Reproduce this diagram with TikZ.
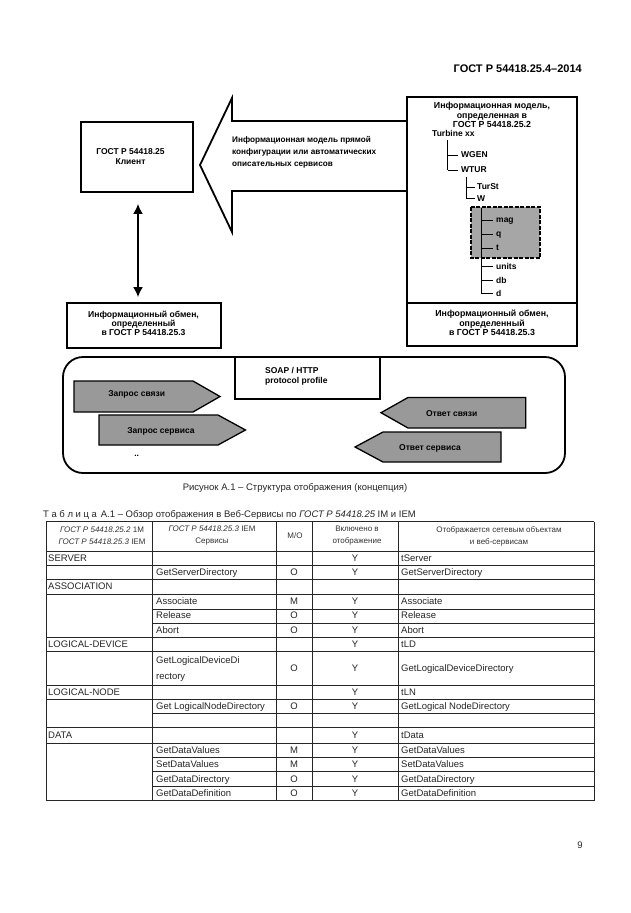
\documentclass[tikz,border=0pt]{standalone}
\usepackage{fontspec}
\setmainfont{Liberation Sans}
\usetikzlibrary{arrows.meta}
\begin{document}
\begin{tikzpicture}[x=1pt,y=-1pt,
  box/.style={draw, line width=1.8pt, inner sep=0pt},
  dt/.style={font=\fontsize{8.5}{10}\selectfont\bfseries, align=center, inner sep=0pt},
  dtr/.style={font=\fontsize{8.8}{9.7}\selectfont\bfseries, align=center, inner sep=0pt},
  leaf/.style={font=\fontsize{8.5}{10}\selectfont\bfseries, anchor=mid west, inner sep=0pt},
  garrow/.style={draw, fill=black!40, line width=1.3pt, line join=miter},
  tline/.style={line width=0.7pt, black!85},
  tree/.style={line width=0.9pt},
  tb/.style={font=\fontsize{9.5}{11}\selectfont, inner sep=0pt, text=black!85},
  hd/.style={font=\fontsize{8}{12}\selectfont, align=center, inner sep=0pt, text=black!80}]
\useasboundingbox (0,0) rectangle (630,913);
\fill[white] (0,0) rectangle (630,913);

% page header
\node[font=\fontsize{11}{13}\selectfont\bfseries, anchor=east, inner sep=0pt] (hdr) at (582,69) {ГОСТ Р 54418.25.4–2014};

% client box
\node[box, minimum width=112, minimum height=70] (client) at (137,157) {};
\node[dt] (clienttext) at (130.5,157) {ГОСТ Р 54418.25\\Клиент};

% big block arrow
\draw[line width=1.8pt, line join=miter, fill=white] (407,121) -- (232,121) -- (232,98) -- (200,165) -- (232,232) -- (232,191) -- (407,191);
\node[dt, align=left, anchor=west, font=\fontsize{8.2}{11.8}\selectfont\bfseries] (modeltext) at (232,152.5) {Информационная модель прямой\\конфигурации или автоматических\\описательных сервисов};

% right box
\node[box, minimum width=170, minimum height=249] (imodel) at (492,221.5) {};
\draw[line width=1.5pt] (imodel.west |- 0,303) -- (imodel.east |- 0,303);
\node[dtr] (imtitle) at (492,115) {Информационная модель,\\определенная в\\ГОСТ Р 54418.25.2};
\node[leaf] (turb) at (432,134) {Turbine xx};
\draw[tree] (447.5,140) -- (447.5,170);
\draw[tree] (447.5,155) -- (458,155);
\draw[tree] (447.5,170) -- (458,170);
\node[leaf] (wgen) at (461,155) {WGEN};
\node[leaf] (wtur) at (461,170) {WTUR};
\draw[tree] (466.5,177) -- (466.5,198.5);
\draw[tree] (466.5,187) -- (475,187);
\draw[tree] (466.5,198.5) -- (475,198.5);
\node[leaf] (turst) at (477,187) {TurSt};
\node[leaf] (wnode) at (477,198.5) {W};
\fill[black!35] (471,207) rectangle (540,258);
\draw[line width=1.3pt, dash pattern=on 4pt off 1.5pt] (471,207) rectangle (540,258);
\draw[tree] (481,208) -- (481,293.5);
\foreach \y/\t/\n in {220/mag/lmag, 234.3/q/lq, 248.3/t/lt, 266.7/units/lunits, 280.7/db/ldb, 293.5/d/ld}{
  \draw[tree] (481,\y) -- (493,\y);
  \node[leaf] (\n) at (496,\y) {\t};
}
\node[dtr] (exright) at (492,323) {Информационный обмен,\\определенный\\в ГОСТ Р 54418.25.3};

% left lower box
\node[box, minimum width=154, minimum height=45] (exleft) at (144,325.5) {};
\node[dt, font=\fontsize{8.6}{9.3}\selectfont\bfseries] (exlefttext) at (143.5,323.5) {Информационный обмен,\\определенный\\в ГОСТ Р 54418.25.3};

% double arrow
\draw[line width=1.8pt, {Latex[length=10pt,width=10pt]}-{Latex[length=10pt,width=10pt]}, shorten <=11pt, shorten >=5pt] ([xshift=1pt]client.south) -- ([xshift=-6pt]exleft.north);

% rounded frame
\draw[line width=1.8pt, rounded corners=20pt] (63,357) rectangle (565,473);
\node[draw, line width=1.8pt, minimum width=145, minimum height=42, inner sep=0pt] (soap) at (307.5,378) {};
\node[dt, align=left, anchor=west] (soaptext) at (265,376) {SOAP / HTTP\\protocol profile};

% gray arrows
\draw[garrow] (74,381) -- (193,381) -- (220,396.5) -- (193,412) -- (74,412) -- cycle;
\node[dt] (zs) at (136.7,394) {Запрос связи};
\draw[garrow] (99,415) -- (218,415) -- (245.5,430) -- (218,445) -- (99,445) -- cycle;
\node[dt] (zsv) at (161,431) {Запрос сервиса};
\draw[garrow] (525.7,397.5) -- (408,397.5) -- (381,412.7) -- (408,428) -- (525.7,428) -- cycle;
\node[dt] (os) at (451.7,414) {Ответ связи};
\draw[garrow] (501,432) -- (383,432) -- (355,447) -- (383,462) -- (501,462) -- cycle;
\node[dt] (osv) at (430,448) {Ответ сервиса};
\node[dt] (dots) at (136.7,456) {..};

% caption
\node[font=\fontsize{9.5}{11}\selectfont, inner sep=0pt, text=black!85] (cap) at (295,488) {Рисунок А.1 – Структура отображения (концепция)};
\node[font=\fontsize{9.5}{11}\selectfont, inner sep=0pt, anchor=west, text=black!85] (ttl) at (43,515) {Т\hspace{2.6pt}а\hspace{2.6pt}б\hspace{2.6pt}л\hspace{2.6pt}и\hspace{2.6pt}ц\hspace{2.6pt}а\hspace{4pt}А.1 – Обзор отображения в Веб-Сервисы по \textit{ГОСТ Р 54418.25} IM и IEM};

% table grid
\foreach \y in {521.5,565.5,579.5,594,637.5,651.5,685,699.5,727.5,743,800.5}
  \draw[tline] (46,\y) -- (594,\y);
\foreach \y in {609,623,713.5,757.5,771.5,786}
  \draw[tline] (152,\y) -- (594,\y);
\draw[line width=1.5pt, black!85] (46,551.5) -- (594,551.5);
\foreach \x in {46,152,276,312,398,594}
  \draw[tline] (\x,521.5) -- (\x,800.5);

% header
\node[hd] (h1) at (102,536) {\textit{ГОСТ Р 54418.25.2} 1M\\\textit{ГОСТ Р 54418.25.3} IEM};
\node[hd] (h2) at (212,536) {\textit{ГОСТ Р 54418.25.3} IEM\\Сервисы};
\node[hd] (h3) at (295,536) {M/O};
\node[hd] (h4) at (357,536) {Включено в\\отображение};
\node[hd] (h5) at (499,536) {Отображается сетевым объектам\\и веб-сервисам};

% body
\foreach \y/\t [count=\i] in {558.5/SERVER, 587/ASSOCIATION, 644.5/LOGICAL-DEVICE, 692.5/LOGICAL-NODE, 735.5/DATA}
  \node[tb, anchor=mid west] (ca\i) at (48,\y) {\t};
\foreach \y/\t [count=\i] in {572.5/GetServerDirectory, 601.5/Associate, 616/Release, 630.5/Abort, 706.5/Get LogicalNodeDirectory, 750.5/GetDataValues, 765/SetDataValues, 779.5/GetDataDirectory, 794/GetDataDefinition}
  \node[tb, anchor=mid west] (cb\i) at (156,\y) {\t};
\node[tb, anchor=west, align=left, font=\fontsize{9.5}{16}\selectfont] (cbx) at (156,669) {GetLogicalDeviceDi\\rectory};
\foreach \y/\t [count=\i] in {572.5/O, 601.5/M, 616/O, 630.5/O, 669/O, 706.5/O, 750.5/M, 765/M, 779.5/O, 794/O}
  \node[tb, anchor=mid] (cc\i) at (294,\y) {\t};
\foreach \y [count=\i] in {558.5, 572.5, 601.5, 616, 630.5, 644.5, 669, 692.5, 706.5, 735.5, 750.5, 765, 779.5, 794}
  \node[tb, anchor=mid] (cd\i) at (355,\y) {Y};
\foreach \y/\t [count=\i] in {558.5/tServer, 572.5/GetServerDirectory, 601.5/Associate, 616/Release, 630.5/Abort, 644.5/tLD, 669/GetLogicalDeviceDirectory, 692.5/tLN, 706.5/GetLogical NodeDirectory, 735.5/tData, 750.5/GetDataValues, 765/SetDataValues, 779.5/GetDataDirectory, 794/GetDataDefinition}
  \node[tb, anchor=mid west] (ce\i) at (401,\y) {\t};

% page number
\node[font=\fontsize{9.5}{11}\selectfont, inner sep=0pt, text=black!85] (pg) at (580,845) {9};
\end{tikzpicture}
\end{document}
